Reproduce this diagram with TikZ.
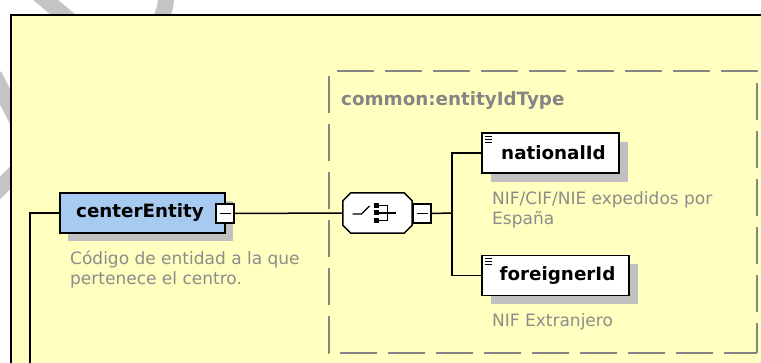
\documentclass[tikz,border=0pt]{standalone}
\usepackage{fontspec}
\setmainfont{DejaVu Sans}
\usetikzlibrary{calc}
\definecolor{bgyellow}{HTML}{FFFFC0}
\definecolor{elblue}{HTML}{A6CAF0}
\definecolor{shadowgray}{HTML}{C0C0C0}
\definecolor{desc}{HTML}{8C8C8C}
\definecolor{dashgray}{HTML}{858585}
\definecolor{wmgray}{HTML}{C4C4C4}
\begin{document}
\begin{tikzpicture}[x=1pt,y=-1pt,
  elem/.style={draw=black, line width=1.6pt, minimum height=40pt, inner sep=0pt,
    font=\fontsize{18.3}{20}\selectfont\bfseries},
  conn/.style={line width=1.5pt, black},
  desctext/.style={text=desc, font=\fontsize{17}{20}\selectfont, align=left, anchor=base west, inner sep=0pt},
  minusbox/.style={draw, fill=white, line width=1.3pt, minimum width=18pt, minimum height=19pt, inner sep=0pt},
  dashbox/.style={draw=dashgray, line width=1.5pt, dash pattern=on 37pt off 11pt},
  iconline/.style={line width=1.3pt, black},
  wmstroke/.style={draw=wmgray, line width=16pt}
]
\useasboundingbox (0,0) rectangle (761,363);
\clip (0,0) rectangle (761,363);
\fill[white] (0,0) rectangle (761,363);
% watermark strokes
\draw[wmstroke] (36,-8) -- (72,22);
\draw[wmstroke] (166,-8) .. controls (166,5) .. (160,22);
\draw[wmstroke] (-6,75) -- (22,130);
\draw[wmstroke] (-6,194) -- (28,160);
% yellow frame
\draw[fill=bgyellow, line width=2pt] (11,15) rectangle (800,400);
% dashed type box
\draw[dashbox, dash phase=40pt] (329,71) -- (757,71) -- (757,353);
\draw[dashbox, dash phase=43pt] (329,71) -- (329,353) -- (757,353);
\node[text=dashgray, font=\fontsize{18.3}{20}\selectfont\bfseries, anchor=base west, inner sep=0pt] (typename) at (341,106) {common:entityIdType};

% centerEntity
\fill[shadowgray] (68,201) rectangle (233,241);
\node[elem, fill=elblue, minimum width=165pt] (ce) at (142.5,213) {centerEntity\hspace*{5pt}};
\node[minusbox] (ceminus) at (225,213.5) {\rule{11pt}{1.3pt}};
\node[desctext] (cedesc) at (70,285) {Código de entidad a la que\\pertenece el centro.};

% sequence compositor
\node[draw=none, minimum width=69pt, minimum height=40pt, inner sep=0pt] (seq) at (377.5,213) {};
\fill[shadowgray, shift={(8,8)}] ($(seq.north west)+(8,0)$) -- ($(seq.north east)+(-8,0)$) -- ($(seq.north east)+(0,8)$) -- ($(seq.south east)+(0,-8)$) -- ($(seq.south east)+(-8,0)$) -- ($(seq.south west)+(8,0)$) -- ($(seq.south west)+(0,-8)$) -- ($(seq.north west)+(0,8)$) -- cycle;
\draw[fill=white, line width=1.5pt] ($(seq.north west)+(8,0)$) -- ($(seq.north east)+(-8,0)$) -- ($(seq.north east)+(0,8)$) -- ($(seq.south east)+(0,-8)$) -- ($(seq.south east)+(-8,0)$) -- ($(seq.south west)+(8,0)$) -- ($(seq.south west)+(0,-8)$) -- ($(seq.north west)+(0,8)$) -- cycle;
\begin{scope}[shift={(seq.center)}]
  \draw[iconline] (-25,1) -- (-16,1) -- (-8,-7);
  \fill (-4,-10) rectangle (1,-5);
  \fill (-4,-2.5) rectangle (1,2.5);
  \fill (-4,5) rectangle (1,10);
  \draw[iconline] (1,-7.5) -- (10,-7.5) -- (10,7.5) -- (1,7.5);
  \draw[iconline] (1,0) -- (18,0);
\end{scope}
\node[minusbox] (seqminus) at (422,213.5) {\rule{11pt}{1.3pt}};

% nationalId
\fill[shadowgray] (491,142) rectangle (628,182);
\node[elem, fill=white, minimum width=137pt] (nid) at (550.5,153) {\hspace*{6pt}nationalId};
\draw[iconline] ($(nid.north west)+(4,4)$) -- ++(7,0);
\draw[iconline] ($(nid.north west)+(4,7)$) -- ++(7,0);
\draw[iconline] ($(nid.north west)+(4,10)$) -- ++(7,0);
\node[desctext] (niddesc) at (492,225) {NIF/CIF/NIE expedidos por\\España};

% foreignerId
\fill[shadowgray] (491,264) rectangle (638,304);
\node[elem, fill=white, minimum width=147pt] (fid) at (555.5,275.5) {\hspace*{4pt}foreignerId};
\draw[iconline] ($(fid.north west)+(4,4)$) -- ++(7,0);
\draw[iconline] ($(fid.north west)+(4,7)$) -- ++(7,0);
\draw[iconline] ($(fid.north west)+(4,10)$) -- ++(7,0);
\node[desctext] (fiddesc) at (492,327) {NIF Extranjero};

% connectors
\coordinate (leftbus) at (30,380);
\coordinate (fork) at (452,213);
\draw[conn] (ce.west) -| (leftbus);
\draw[conn] (ceminus.east) -- (seq.west);
\draw[conn] (seqminus.east) -- (fork);
\draw[conn] (nid.west) -| (fork) |- (fid.west);
\end{tikzpicture}
\end{document}
